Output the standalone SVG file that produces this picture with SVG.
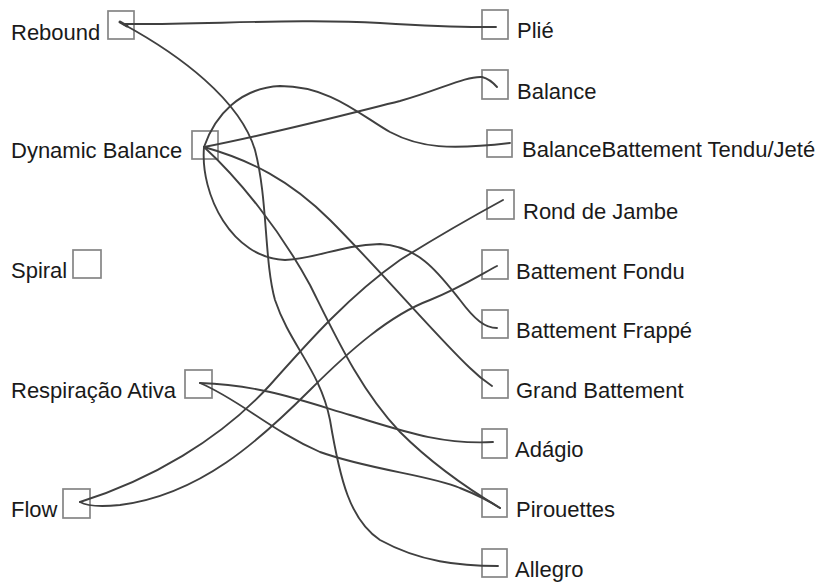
<svg xmlns="http://www.w3.org/2000/svg" width="825" height="584" viewBox="0 0 825 584">
<style>
.box{fill:none;stroke:#858585;stroke-width:1.7}
.lbl{font-family:"Liberation Sans",Arial,sans-serif;font-size:22px;fill:#1a1a1a}
.ln{fill:none;stroke:#404040;stroke-width:1.9;stroke-linecap:round;stroke-linejoin:round}
</style>
<rect width="825" height="584" fill="#fff"/>
<g id="n-rebound"><rect class="box" x="108" y="11" width="26" height="28"/><text class="lbl" x="11" y="40">Rebound</text></g>
<g id="n-dynamic"><rect class="box" x="192" y="131" width="26" height="28"/><text class="lbl" x="11" y="158">Dynamic Balance</text></g>
<g id="n-spiral"><rect class="box" x="73" y="250" width="28" height="28"/><text class="lbl" x="11" y="278">Spiral</text></g>
<g id="n-resp"><rect class="box" x="185" y="370" width="27" height="28"/><text class="lbl" x="11" y="398">Respiração Ativa</text></g>
<g id="n-flow"><rect class="box" x="63" y="489" width="27" height="29"/><text class="lbl" x="11" y="517">Flow</text></g>
<g id="n-plie"><rect class="box" x="482" y="10" width="26" height="29"/><text class="lbl" x="517" y="38">Plié</text></g>
<g id="n-balance"><rect class="box" x="482" y="70" width="26" height="29"/><text class="lbl" x="517" y="99">Balance</text></g>
<g id="n-bbtj"><rect class="box" x="487" y="130" width="25" height="27"/><text class="lbl" x="522" y="157">BalanceBattement Tendu/Jeté</text></g>
<g id="n-rond"><rect class="box" x="487" y="190" width="27" height="29"/><text class="lbl" x="523" y="219">Rond de Jambe</text></g>
<g id="n-fondu"><rect class="box" x="482" y="250" width="26" height="29"/><text class="lbl" x="516" y="279">Battement Fondu</text></g>
<g id="n-frappe"><rect class="box" x="482" y="310" width="26" height="28"/><text class="lbl" x="516" y="338">Battement Frappé</text></g>
<g id="n-grand"><rect class="box" x="482" y="370" width="26" height="28"/><text class="lbl" x="516" y="398">Grand Battement</text></g>
<g id="n-adagio"><rect class="box" x="482" y="429" width="25" height="29"/><text class="lbl" x="515" y="457">Adágio</text></g>
<g id="n-pirouettes"><rect class="box" x="482" y="489" width="25" height="28"/><text class="lbl" x="516" y="517">Pirouettes</text></g>
<g id="n-allegro"><rect class="box" x="482" y="549" width="25" height="28"/><text class="lbl" x="515" y="577">Allegro</text></g>
<g id="connectors">
<path class="ln" d="M120,22 L127,26" style="stroke-width:3"/>
<path class="ln" d="M123,24 C200,25 300,18 380,23 S470,27 496,27"/>
<path class="ln" d="M123,24 C180,55 240,100 255,150 C268,200 264,260 275,300 C290,345 320,370 330,420 C340,480 350,520 380,540 C420,562 460,566 498,566"/>
<path class="ln" d="M204,147 C280,132 340,116 400,101 C440,90 465,76 482,77 Q490,79 497,87"/>
<path class="ln" d="M204,147 C215,115 240,88 280,86 C330,86 360,115 390,132 C420,148 450,150 510,143"/>
<path class="ln" d="M204,147 C200,195 232,258 285,260 C320,258 340,245 380,244 C420,246 440,275 460,300 C475,320 485,328 497,328"/>
<path class="ln" d="M204,147 C250,160 290,180 330,220 C380,270 440,340 470,368 Q480,378 492,386"/>
<path class="ln" d="M204,147 C240,180 280,230 310,285 C335,335 360,390 400,432 C430,462 470,490 500,508"/>
<path class="ln" d="M200,383 C260,385 300,400 350,415 C400,430 440,445 493,442"/>
<path class="ln" d="M200,383 C240,400 270,430 320,452 C370,470 430,475 460,488 Q485,498 500,508"/>
<path class="ln" d="M80,502 C150,480 220,440 270,385 C310,340 350,295 400,260 C440,235 470,218 503,200"/>
<path class="ln" d="M80,502 Q90,508 120,505 C200,495 260,440 310,390 C350,350 390,315 430,300 C460,288 480,275 497,266"/>
</g>
</svg>
